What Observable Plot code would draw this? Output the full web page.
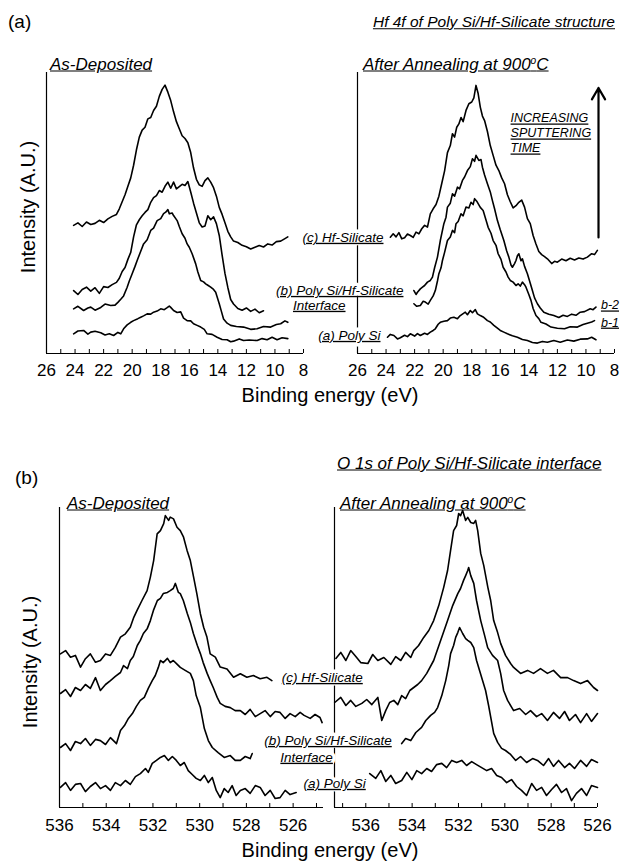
<!DOCTYPE html>
<html><head><meta charset="utf-8">
<script src="https://cdn.jsdelivr.net/npm/d3@7"></script>
<script src="https://cdn.jsdelivr.net/npm/@observablehq/plot@0.6"></script>
<style>
body{margin:0;background:#fff;}
#fig{position:relative;width:629px;height:868px;font-family:"Liberation Sans",Arial,sans-serif;color:#000;overflow:hidden;}
#fig svg{position:absolute;left:0;overflow:visible;}
.t{position:absolute;white-space:nowrap;line-height:1;}
.u{text-decoration:underline;font-style:italic;}
sup{font-size:0.6em;vertical-align:0.55em;line-height:0;}
</style></head>
<body><div id="fig"></div>
<script>
// ---------- Panel (a): Hf 4f, binding energy (eV) vs intensity (A.U.) ----------
const hfTicksMajor = [26,24,22,20,18,16,14,12,10,8];
const hfTicksMinor = [26,25,24,23,22,21,20,19,18,17,16,15,14,13,12,11,10,9,8];

const hfDep_c = [[24.1,45.6],[23.8,46.5],[23.5,45.2],[23.2,46.8],[22.9,45.9],[22.6,46.3],[22.3,47.4],[22.0,46.6],[21.7,47.9],[21.4,48.8],[21.1,49.5],[20.9,51.5],[20.7,54.0],[20.5,56.5],[20.3,59.5],[20.1,62.5],[19.9,67.0],[19.7,72.5],[19.5,77.0],[19.3,79.5],[19.1,80.5],[18.9,83.5],[18.7,84.0],[18.5,86.5],[18.3,88.0],[18.1,91.5],[17.9,94.0],[17.7,95.5],[17.5,93.0],[17.3,90.0],[17.1,86.0],[16.9,82.5],[16.7,80.0],[16.5,77.5],[16.3,76.5],[16.1,75.0],[15.9,71.5],[15.7,66.0],[15.5,62.0],[15.3,60.0],[15.1,59.5],[14.9,61.5],[14.7,62.5],[14.5,61.0],[14.3,59.0],[14.1,56.0],[13.9,52.0],[13.7,49.5],[13.5,46.5],[13.3,43.5],[13.1,41.5],[12.9,40.0],[12.6,39.5],[12.3,38.5],[12.0,38.0],[11.7,37.2],[11.4,37.8],[11.1,38.4],[10.8,37.9],[10.5,39.0],[10.2,38.6],[9.9,39.8],[9.6,40.0],[9.3,40.9],[9.1,41.5]];
const hfDep_b2 = [[24.1,22.4],[23.8,21.0],[23.5,22.8],[23.2,23.6],[22.9,22.2],[22.6,23.4],[22.3,21.4],[22.0,23.8],[21.7,23.5],[21.4,24.5],[21.1,25.3],[20.9,26.8],[20.7,29.2],[20.5,30.6],[20.3,33.5],[20.1,36.0],[19.9,41.5],[19.7,45.8],[19.5,47.6],[19.3,49.0],[19.1,50.2],[18.9,51.2],[18.7,53.8],[18.5,55.5],[18.3,56.2],[18.1,58.0],[17.9,57.4],[17.7,59.5],[17.5,61.0],[17.3,58.8],[17.1,61.0],[16.9,58.6],[16.7,59.4],[16.5,60.2],[16.3,59.8],[16.1,61.2],[15.9,57.5],[15.7,53.5],[15.5,50.0],[15.3,46.5],[15.1,45.0],[14.9,45.4],[14.7,49.0],[14.5,47.6],[14.3,48.6],[14.1,46.2],[13.9,42.0],[13.7,35.0],[13.5,28.5],[13.3,23.5],[13.1,19.2],[12.9,17.6],[12.6,16.0],[12.3,15.4],[12.0,16.2],[11.7,15.0],[11.4,15.8],[11.1,14.5],[10.8,15.2]];
const hfDep_b1 = [[24.1,15.9],[23.8,16.8],[23.4,15.3],[23.1,16.2],[22.9,16.5],[22.6,15.4],[22.2,16.4],[21.9,17.6],[21.5,17.1],[21.2,17.2],[21.0,18.2],[20.8,19.3],[20.6,20.5],[20.35,23.6],[20.2,25.8],[20.0,28.4],[19.8,31.0],[19.65,33.1],[19.4,36.4],[19.2,39.0],[18.95,40.5],[18.7,43.8],[18.5,44.6],[18.25,47.3],[18.0,48.0],[17.8,49.8],[17.65,50.3],[17.5,51.2],[17.4,49.7],[17.2,50.0],[17.1,49.1],[16.85,47.3],[16.7,45.2],[16.5,42.6],[16.3,41.0],[16.15,39.0],[16.0,37.8],[15.8,35.5],[15.55,31.9],[15.4,29.0],[15.2,26.0],[15.0,25.5],[14.85,24.8],[14.7,24.3],[14.5,23.6],[14.3,22.8],[14.15,21.8],[13.9,17.7],[13.75,15.0],[13.6,12.3],[13.35,10.8],[13.1,10.0],[12.7,9.6],[12.2,9.4],[11.7,8.6],[11.25,8.8],[10.8,9.6],[10.3,9.4],[9.9,10.3],[9.6,10.6],[9.3,11.6],[9.1,11.1]];
const hfDep_a = [[24.1,7.0],[23.8,8.0],[23.4,8.2],[23.1,6.9],[22.9,7.6],[22.6,7.9],[22.2,7.4],[21.9,6.6],[21.6,7.0],[21.3,6.4],[21.0,7.5],[20.8,7.0],[20.6,8.8],[20.35,10.2],[20.1,11.1],[19.9,11.7],[19.6,12.4],[19.4,12.9],[19.2,13.4],[18.95,14.1],[18.7,14.0],[18.5,14.7],[18.25,15.1],[18.0,15.9],[17.75,15.6],[17.55,16.3],[17.4,16.9],[17.3,16.4],[17.1,15.3],[16.85,14.6],[16.6,14.8],[16.4,12.6],[16.15,11.7],[15.9,11.6],[15.7,10.6],[15.45,10.0],[15.2,9.4],[14.95,8.6],[14.75,7.0],[14.4,6.8],[14.05,5.8],[13.7,5.0],[13.35,4.9],[13.1,4.2],[12.9,4.4],[12.5,5.2],[12.2,4.6],[11.8,4.8],[11.25,4.6],[10.9,5.3],[10.55,4.9],[10.2,5.8],[9.85,4.9],[9.5,5.6],[9.1,5.3]];

const hfAnn_c = [[23.7,41.4],[23.5,42.6],[23.3,41.5],[23.1,43.0],[22.9,40.8],[22.7,41.2],[22.5,42.5],[22.3,42.0],[22.1,41.3],[21.9,43.2],[21.7,42.6],[21.5,44.4],[21.3,45.6],[21.1,45.0],[20.9,49.7],[20.7,51.5],[20.5,53.0],[20.3,56.0],[20.1,60.5],[19.9,65.0],[19.7,71.5],[19.5,74.0],[19.35,78.2],[19.2,77.0],[19.05,80.5],[18.9,81.7],[18.75,84.0],[18.6,82.5],[18.4,86.5],[18.2,88.9],[18.0,89.5],[17.85,91.0],[17.7,95.4],[17.55,92.5],[17.4,87.7],[17.25,84.5],[17.1,82.9],[16.9,79.0],[16.7,74.0],[16.5,70.5],[16.3,67.0],[16.1,65.1],[15.9,62.5],[15.7,60.4],[15.5,56.5],[15.3,54.0],[15.1,51.8],[14.9,52.6],[14.7,53.8],[14.5,54.6],[14.3,52.1],[14.1,48.0],[13.9,46.2],[13.7,42.0],[13.5,39.0],[13.3,36.3],[13.1,35.2],[12.9,34.5],[12.7,33.7],[12.4,32.0],[12.2,32.8],[12.0,32.5],[11.7,33.6],[11.4,33.0],[11.1,33.9],[10.8,33.3],[10.5,34.0],[10.2,33.6],[9.9,34.3],[9.6,35.5],[9.4,35.2],[9.2,36.7]];
const hfAnn_b2 = [[22.05,22.4],[21.9,21.0],[21.8,21.8],[21.6,23.0],[21.45,23.6],[21.3,24.2],[21.1,25.4],[20.9,26.0],[20.75,27.2],[20.6,30.5],[20.4,34.3],[20.2,40.2],[19.95,46.2],[19.8,48.5],[19.7,52.1],[19.5,53.5],[19.35,56.8],[19.2,56.0],[19.0,59.2],[18.85,58.6],[18.65,61.6],[18.5,62.8],[18.3,65.1],[18.1,66.5],[17.95,69.3],[17.8,68.4],[17.7,70.5],[17.5,68.7],[17.35,69.0],[17.25,66.3],[17.1,63.5],[16.9,60.4],[16.7,57.5],[16.55,54.4],[16.4,51.5],[16.2,47.3],[16.0,44.0],[15.75,40.2],[15.55,36.5],[15.4,34.3],[15.25,31.5],[15.15,30.7],[15.0,32.0],[14.9,33.1],[14.8,34.8],[14.7,35.5],[14.55,33.0],[14.45,33.7],[14.3,31.0],[14.1,28.4],[13.9,25.0],[13.75,22.4],[13.6,19.8],[13.4,17.7],[13.2,16.2],[12.95,14.7],[12.6,14.0],[12.25,13.5],[11.9,12.8],[11.6,13.6],[11.3,13.2],[11.0,14.0],[10.7,13.6],[10.4,14.7],[10.1,14.9],[9.7,15.9],[9.5,15.6],[9.3,16.5]];
const hfAnn_b1 = [[22.05,17.7],[21.85,16.8],[21.6,17.1],[21.4,18.6],[21.25,18.3],[21.05,17.6],[20.9,18.9],[20.7,20.5],[20.55,22.4],[20.4,25.8],[20.3,28.4],[20.15,30.5],[20.05,33.1],[19.9,36.0],[19.7,40.2],[19.5,41.5],[19.35,43.8],[19.2,43.0],[19.1,46.2],[18.95,47.0],[18.75,49.7],[18.6,49.0],[18.4,52.1],[18.2,51.8],[18.05,53.8],[17.9,53.0],[17.8,55.1],[17.65,54.2],[17.55,53.3],[17.4,52.0],[17.2,50.9],[17.0,47.5],[16.85,44.9],[16.65,42.8],[16.5,40.2],[16.3,38.5],[16.15,35.5],[15.95,33.5],[15.8,30.7],[15.6,29.0],[15.45,27.2],[15.3,26.0],[15.1,25.4],[14.9,24.2],[14.75,24.8],[14.6,24.0],[14.45,25.4],[14.3,24.5],[14.2,23.6],[14.0,21.0],[13.85,18.9],[13.7,16.0],[13.5,13.5],[13.3,12.4],[13.15,11.1],[12.8,10.5],[12.45,9.4],[12.0,9.0],[11.5,8.8],[11.1,9.5],[10.6,9.4],[10.2,10.3],[9.9,10.8],[9.6,11.2],[9.4,11.7]];
const hfAnn_a = [[23.9,5.8],[23.7,6.8],[23.45,6.4],[23.2,5.2],[23.0,5.6],[22.7,6.5],[22.5,6.0],[22.3,7.0],[22.0,6.2],[21.8,7.1],[21.6,6.4],[21.3,7.2],[21.1,6.8],[20.9,7.6],[20.7,8.2],[20.55,8.8],[20.35,10.4],[20.2,11.1],[19.95,11.5],[19.7,11.7],[19.5,12.6],[19.25,12.9],[19.0,12.4],[18.8,13.5],[18.6,14.2],[18.45,14.7],[18.3,13.8],[18.1,15.3],[17.95,14.5],[17.75,15.6],[17.6,14.1],[17.4,13.5],[17.2,13.0],[16.9,11.7],[16.7,11.2],[16.45,10.0],[16.2,9.0],[16.0,8.2],[15.75,7.6],[15.5,7.0],[15.15,6.3],[14.8,5.8],[14.45,5.0],[14.1,4.6],[13.75,3.9],[13.4,3.7],[13.05,4.3],[12.7,4.0],[12.25,4.6],[11.8,4.0],[11.3,4.8],[10.85,4.4],[10.4,5.1],[9.9,5.2],[9.6,5.8],[9.3,4.9]];

const hfCurveLabels = [
  {x: 24.18, y: 41.3, t: "(c) Hf-Silicate"},
  {x: 22.78, y: 22.4, t: "(b) Poly Si/Hf-Silicate"},
  {x: 26.84, y: 17.1, t: "Interface"},
  {x: 24.39, y: 6.4, t: "(a) Poly Si"}
];
const hfEndLabels = [{x: 8.95, y: 17.1, t: "b-2"}, {x: 8.95, y: 11.0, t: "b-1"}];
const sputterNote = [{x: 15.28, y: 86.0, t: "INCREASING\nSPUTTERING\nTIME"}];
const sputterArrow = [{x: 9.12, y1: 41.3, y2: 94.5}];

// ---------- Panel (b): O 1s ----------
const oTicksMajor = [536,534,532,530,528,526];
const oTicksMinorL = [536,535,534,533,532,531,530,529,528,527,526,525];
const oTicksMinorR = [537,536,535,534,533,532,531,530,529,528,527,526];

const oDep_c = [[535.96,51.2],[535.74,52.3],[535.53,50.1],[535.32,50.7],[535.1,46.8],[534.89,49.6],[534.68,51.2],[534.46,48.4],[534.25,49.0],[534.03,51.2],[533.82,50.7],[533.61,53.4],[533.39,56.8],[533.18,57.9],[532.97,60.1],[532.82,63.4],[532.68,65.7],[532.47,69.0],[532.25,72.3],[532.11,76.8],[531.97,82.3],[531.82,91.2],[531.68,92.3],[531.54,94.6],[531.47,97.3],[531.33,95.7],[531.26,96.8],[531.12,96.2],[530.97,93.4],[530.83,92.3],[530.69,90.1],[530.54,85.7],[530.4,82.3],[530.26,76.8],[530.12,71.2],[529.97,64.6],[529.83,60.1],[529.69,56.8],[529.55,51.2],[529.33,50.1],[529.12,46.8],[528.83,46.2],[528.55,43.4],[528.26,44.6],[527.98,43.4],[527.7,44.0],[527.41,42.9],[527.12,43.4],[526.91,42.3]];
const oDep_b2 = [[535.96,38.0],[535.74,39.3],[535.53,37.0],[535.32,40.0],[535.10,39.0],[534.89,41.0],[534.68,39.7],[534.46,43.3],[534.25,39.0],[534.03,41.0],[533.82,42.3],[533.61,43.7],[533.39,45.0],[533.26,47.3],[533.09,46.3],[532.97,49.0],[532.84,50.3],[532.67,54.0],[532.54,55.7],[532.41,58.0],[532.24,59.7],[532.11,62.3],[531.98,65.7],[531.81,69.0],[531.68,69.7],[531.56,71.3],[531.38,71.7],[531.26,72.3],[531.13,73.0],[531.04,74.7],[530.91,71.7],[530.83,71.3],[530.70,69.0],[530.53,64.7],[530.40,61.7],[530.27,58.0],[530.10,54.0],[529.97,51.3],[529.85,48.3],[529.68,44.7],[529.55,42.3],[529.42,40.0],[529.25,36.7],[529.12,34.7],[528.91,33.7],[528.69,33.3],[528.48,32.3],[528.26,32.3],[528.05,31.0],[527.84,32.7],[527.62,30.3],[527.41,31.3],[527.20,32.3],[526.98,30.3],[526.77,32.0],[526.56,31.7],[526.34,29.7],[526.13,31.3],[525.91,30.3],[525.70,31.7],[525.53,30.7],[525.27,29.7],[525.06,31.0],[524.85,30.0],[524.76,28.3]];
const oDep_b1 = [[535.96,20.0],[535.74,21.3],[535.53,19.0],[535.32,22.0],[535.10,21.3],[534.89,23.0],[534.68,20.7],[534.46,22.7],[534.25,22.3],[534.03,21.0],[533.82,23.3],[533.56,21.3],[533.39,25.7],[533.22,27.3],[533.05,29.7],[532.88,31.3],[532.71,33.7],[532.54,35.7],[532.37,36.7],[532.20,39.7],[532.03,42.3],[531.90,44.0],[531.77,46.7],[531.68,49.0],[531.56,48.3],[531.38,49.7],[531.26,48.3],[531.13,49.0],[530.96,47.7],[530.83,46.7],[530.62,45.7],[530.40,44.7],[530.27,42.3],[530.15,37.3],[529.97,33.3],[529.80,26.3],[529.63,22.3],[529.46,20.0],[529.21,18.3],[528.95,16.7],[528.69,17.3],[528.48,15.7],[528.26,15.7],[528.05,17.0],[527.84,16.3],[527.75,18.0]];
const oDep_a = [[535.96,6.7],[535.74,8.3],[535.53,5.7],[535.32,7.7],[535.10,8.0],[534.89,5.3],[534.68,7.0],[534.46,8.3],[534.25,6.3],[534.03,7.3],[533.82,5.7],[533.61,8.3],[533.39,7.3],[533.18,9.0],[532.97,7.7],[532.75,10.3],[532.54,11.3],[532.32,13.0],[532.20,11.7],[532.03,14.7],[531.85,15.7],[531.68,16.7],[531.51,17.3],[531.34,15.7],[531.17,17.0],[531.00,15.7],[530.83,14.0],[530.66,15.0],[530.49,12.3],[530.32,11.0],[530.15,9.7],[529.97,9.0],[529.80,10.7],[529.63,8.3],[529.46,10.0],[529.29,5.7],[529.12,3.3],[528.95,6.3],[528.78,5.0],[528.61,7.3],[528.44,4.0],[528.26,5.7],[528.05,6.3],[527.84,4.7],[527.62,7.3],[527.41,6.7],[527.20,4.0],[526.98,5.7],[526.77,3.0],[526.56,3.3],[526.34,5.7],[526.13,4.3],[525.87,5.0]];

const oAnn_c = [[537.29,49.7],[537.08,51.7],[536.86,49.0],[536.65,52.3],[536.43,50.3],[536.22,48.3],[535.91,48.0],[535.70,51.0],[535.48,49.0],[535.22,50.0],[534.92,47.7],[534.71,50.3],[534.49,49.0],[534.28,51.7],[534.06,50.0],[533.93,52.3],[533.72,54.0],[533.50,56.7],[533.28,59.0],[533.07,62.3],[532.85,67.3],[532.64,73.3],[532.47,79.0],[532.34,85.7],[532.21,92.3],[532.08,94.0],[531.99,98.0],[531.91,97.3],[531.82,99.0],[531.69,95.7],[531.60,96.7],[531.47,95.0],[531.34,94.7],[531.26,95.7],[531.17,92.3],[531.04,84.7],[530.91,80.7],[530.73,73.3],[530.61,69.0],[530.48,62.3],[530.31,58.3],[530.18,54.7],[529.97,50.7],[529.75,48.0],[529.62,46.7],[529.32,44.7],[529.02,45.7],[528.76,44.7],[528.46,46.3],[528.16,44.7],[527.90,45.7],[527.59,43.3],[527.29,43.3],[527.03,42.3],[526.73,41.3],[526.43,42.3],[526.17,40.0],[526.0,39.0]];
const oAnn_b2 = [[537.34,35.0],[537.08,36.7],[536.86,34.0],[536.65,35.7],[536.43,33.7],[536.17,34.7],[535.96,36.0],[535.74,34.3],[535.48,36.7],[535.31,29.0],[535.14,32.3],[534.97,35.0],[534.79,35.7],[534.62,34.3],[534.45,37.3],[534.28,36.3],[534.10,39.0],[533.93,40.0],[533.76,41.0],[533.59,42.3],[533.37,44.7],[533.07,49.0],[532.77,55.7],[532.47,62.3],[532.25,67.3],[532.03,71.3],[531.91,73.0],[531.78,75.7],[531.69,77.3],[531.60,79.0],[531.56,80.0],[531.47,77.3],[531.34,74.7],[531.22,69.0],[531.04,62.3],[530.87,57.3],[530.74,53.3],[530.53,50.7],[530.31,49.0],[530.18,44.7],[530.05,39.0],[529.88,35.7],[529.62,32.3],[529.36,33.0],[529.10,31.0],[528.89,32.3],[528.63,30.3],[528.41,31.3],[528.16,29.0],[527.90,31.7],[527.64,29.7],[527.42,32.0],[527.21,29.0],[526.95,31.0],[526.73,28.3],[526.47,31.3],[526.26,28.7],[526.0,31.3]];
const oAnn_b1 = [[534.45,21.3],[534.28,23.0],[534.06,22.3],[533.84,25.0],[533.59,26.7],[533.41,29.0],[533.20,30.7],[533.03,31.7],[532.90,33.3],[532.72,37.3],[532.55,42.3],[532.42,47.3],[532.34,51.3],[532.21,54.0],[532.12,56.7],[532.03,58.3],[531.95,60.0],[531.82,58.0],[531.69,56.3],[531.60,55.7],[531.47,55.0],[531.34,53.3],[531.22,49.0],[531.09,45.7],[530.96,42.3],[530.83,39.0],[530.70,34.0],[530.48,24.7],[530.31,21.7],[530.14,19.7],[529.97,19.0],[529.75,17.7],[529.53,15.7],[529.32,17.0],[529.06,15.0],[528.80,16.3],[528.59,15.7],[528.33,14.0],[528.11,16.3],[527.90,13.7],[527.68,15.7],[527.42,13.3],[527.21,14.7],[526.99,13.0],[526.73,15.7],[526.47,13.7],[526.26,16.0],[526.0,15.0]];
const oAnn_a = [[535.83,11.3],[535.57,9.7],[535.35,12.3],[535.14,8.7],[534.92,10.7],[534.71,8.0],[534.45,9.0],[534.23,11.7],[534.01,9.3],[533.80,12.3],[533.59,11.3],[533.37,13.0],[533.16,12.0],[532.94,14.3],[532.72,14.7],[532.51,13.3],[532.29,15.7],[532.08,15.0],[531.86,15.7],[531.65,14.0],[531.43,15.3],[531.22,14.3],[531.00,13.3],[530.78,12.3],[530.57,13.0],[530.35,10.7],[530.14,10.0],[529.92,8.3],[529.71,9.3],[529.49,7.0],[529.28,5.7],[529.06,4.0],[528.84,8.0],[528.63,5.7],[528.41,6.7],[528.20,4.0],[527.98,6.0],[527.77,7.7],[527.55,5.0],[527.34,6.3],[527.12,2.3],[526.91,4.7],[526.69,6.3],[526.47,4.0],[526.26,7.3],[526.0,6.7]];

const oCurveLabels = [
  {x: 536.13, y: 43.3, t: "(c) Hf-Silicate"},
  {x: 534.88, y: 22.3, t: "(b) Poly Si/Hf-Silicate"},
  {x: 537.42, y: 16.7, t: "Interface"},
  {x: 536.0, y: 8.0, t: "(a) Poly Si"}
];

// ---------- drawing ----------
const fig = document.getElementById("fig");
const FONT = '"Liberation Sans", Arial, Helvetica, sans-serif';

function curveLabelMarks(labels, anchor, size) {
  const common = {x: "x", y: "y", text: "t", textAnchor: anchor, fontSize: size, fontStyle: "italic"};
  return [
    // white knock-out behind the label (hides the axis line under it)
    Plot.text(labels, {...common, fill: "white", stroke: "white", strokeWidth: 7}),
    Plot.text(labels, {...common, fill: "black"})
  ];
}

function panel(o) {
  const marks = [
    Plot.ruleY([0], {stroke: "black", strokeWidth: 1.2}),
    Plot.ruleX([o.domain[0]], {stroke: "black", strokeWidth: 1.2}),
    Plot.axisX({ticks: o.minor, tickSize: 4, dy: -4, tickFormat: () => "", label: null, strokeWidth: 1}),
    Plot.axisX({ticks: o.major, tickSize: 0, tickPadding: o.pad, fontSize: 17, label: null, tickFormat: d => String(d)}),
    ...o.series.map(s => Plot.line(s, {x: d => d[0], y: d => d[1], stroke: "black", strokeWidth: 1.6, strokeLinejoin: "round"})),
    ...(o.extra || [])
  ];
  const svg = Plot.plot({
    width: 629, height: o.height,
    marginLeft: o.left, marginRight: 629 - o.right, marginTop: o.mt, marginBottom: o.mb,
    x: {domain: o.domain, axis: null},
    y: {domain: [0, 100], axis: null},
    style: {fontFamily: FONT, background: "transparent", color: "black", overflow: "visible"},
    marks
  });
  svg.style.top = o.top + "px";
  svg.querySelectorAll('g[aria-label="text"]').forEach(g => {
    if (g.getAttribute("fill") === "white") return;
    g.querySelectorAll("text").forEach(t => { t.style.textDecoration = "underline"; });
  });
  fig.appendChild(svg);
}

// Panel (a)
panel({top: 0, height: 400, mt: 72, mb: 47, left: 46, right: 303, domain: [26, 8], pad: 10,
  minor: hfTicksMinor, major: hfTicksMajor, series: [hfDep_c, hfDep_b2, hfDep_b1, hfDep_a]});
panel({top: 0, height: 400, mt: 72, mb: 47, left: 357, right: 614, domain: [26, 8], pad: 10,
  minor: hfTicksMinor, major: hfTicksMajor, series: [hfAnn_c, hfAnn_b2, hfAnn_b1, hfAnn_a],
  extra: [
    ...curveLabelMarks(hfCurveLabels, "end", 13.5),
    Plot.text(hfEndLabels, {x: "x", y: "y", text: "t", textAnchor: "start", fontSize: 12.5, fontStyle: "italic"}),
    Plot.text(sputterNote, {x: "x", y: "y", text: "t", textAnchor: "start", lineAnchor: "top", lineHeight: 1.2, fontSize: 12.5, fontStyle: "italic"}),
    Plot.arrow(sputterArrow, {x1: "x", x2: "x", y1: "y1", y2: "y2", stroke: "black", strokeWidth: 2.2, headLength: 9, bend: 0})
  ]});

// Panel (b)
panel({top: 440, height: 420, mt: 67, mb: 53, left: 59, right: 323, domain: [536, 524.7], pad: 11,
  minor: oTicksMinorL, major: oTicksMajor, series: [oDep_c, oDep_b2, oDep_b1, oDep_a]});
panel({top: 440, height: 420, mt: 67, mb: 53, left: 334, right: 597, domain: [537.35, 526], pad: 11,
  minor: oTicksMinorR, major: oTicksMajor, series: [oAnn_c, oAnn_b2, oAnn_b1, oAnn_a],
  extra: [...curveLabelMarks(oCurveLabels, "end", 13.5)]});

// HTML titles and axis titles
function addText(html, x, y, size, cls, anchor) {
  const d = document.createElement("div");
  d.className = "t " + (cls || "");
  d.innerHTML = html;
  d.style.left = x + "px";
  d.style.top = y + "px";
  d.style.fontSize = size + "px";
  const tx = anchor === "end" ? "-100%" : anchor === "middle" ? "-50%" : "0";
  d.style.transform = `translate(${tx}, -50%)`;
  fig.appendChild(d);
  return d;
}
function addYTitle(text, x, y) {
  const d = addText(text, x, y, 20, "", "middle");
  d.style.transform = "translate(-50%, -50%) rotate(-90deg)";
}

addText("(a)", 8, 21, 19);
addText("Hf 4f of Poly Si/Hf-Silicate structure", 615, 22, 15.5, "u", "end");
addText("As-Deposited", 50, 64, 17, "u");
addText("After Annealing at 900<sup>o</sup>C", 363, 64, 17, "u");
addText("Binding energy (eV)", 330, 395, 20, "", "middle");
addYTitle("Intensity (A.U.)", 28, 207);

addText("(b)", 15, 477, 19);
addText("O 1s of Poly Si/Hf-Silicate interface", 337, 463, 17, "u");
addText("As-Deposited", 67, 503, 17, "u");
addText("After Annealing at 900<sup>o</sup>C", 340, 503, 17, "u");
addText("Binding energy (eV)", 330, 850, 20, "", "middle");
addYTitle("Intensity (A.U.)", 30, 662);
</script>
</body></html>
